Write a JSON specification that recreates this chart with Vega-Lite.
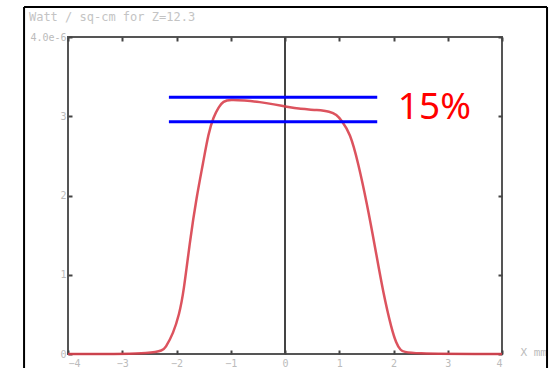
{
  "$schema": "https://vega.github.io/schema/vega-lite/v6.json",
  "autosize": "none",
  "width": 434,
  "height": 317,
  "padding": {"left": 68, "top": 37, "right": 47, "bottom": 14},
  "background": "white",
  "config": {
    "view": {"stroke": "#555", "strokeWidth": 2},
    "axis": {"grid": false, "domain": false, "tickColor": "#444", "tickWidth": 2, "tickSize": -4, "labelColor": "#bbb", "labelFont": "DejaVu Sans Mono", "labelFontSize": 10, "titleColor": "#bbb", "titleFont": "DejaVu Sans Mono", "titleFontSize": 11, "titleFontWeight": "normal"}
  },
  "datasets": {
    "curve": [
      {"x": -4, "y": 0}, {"x": -2.3, "y": 0}, {"x": -2.2, "y": 0.08}, {"x": -2.06, "y": 0.26}, {"x": -1.95, "y": 0.5},
      {"x": -1.87, "y": 0.77}, {"x": -1.75, "y": 1.44}, {"x": -1.63, "y": 1.98}, {"x": -1.51, "y": 2.41}, {"x": -1.41, "y": 2.79},
      {"x": -1.32, "y": 2.99}, {"x": -1.22, "y": 3.12}, {"x": -1.14, "y": 3.19}, {"x": -1.01, "y": 3.21}, {"x": -0.75, "y": 3.2},
      {"x": -0.46, "y": 3.18}, {"x": -0.2, "y": 3.15}, {"x": 0.03, "y": 3.12}, {"x": 0.28, "y": 3.09}, {"x": 0.6, "y": 3.08},
      {"x": 0.83, "y": 3.06}, {"x": 0.95, "y": 3.02}, {"x": 1.04, "y": 2.95}, {"x": 1.2, "y": 2.79}, {"x": 1.35, "y": 2.41},
      {"x": 1.51, "y": 1.9}, {"x": 1.66, "y": 1.35}, {"x": 1.81, "y": 0.77}, {"x": 1.97, "y": 0.3}, {"x": 2.05, "y": 0.14},
      {"x": 2.12, "y": 0.05}, {"x": 2.24, "y": 0}, {"x": 4, "y": 0}
    ],
    "blue": [
      {"x": -2.14, "x2": 1.7, "y": 3.24},
      {"x": -2.14, "x2": 1.7, "y": 2.93}
    ],
    "frame": [
      {"x": -4.81, "x2": -4.81, "y": -1, "y2": 4.38},
      {"x": -4.81, "x2": 4.83, "y": 4.38, "y2": 4.38},
      {"x": 4.83, "x2": 4.83, "y": -1, "y2": 4.38}
    ],
    "zero": [{"x": 0, "y": 0, "y2": 4}],
    "label": [{"x": 2.08, "y": 3.11, "text": "15%"}],
    "heading": [{"x": -4.72, "y": 4.25, "text": "Watt / sq-cm for Z=12.3"}]
  },
  "layer": [
    {
      "data": {"name": "zero"},
      "mark": {"type": "rule", "color": "#444", "strokeWidth": 2},
      "encoding": {
        "x": {"field": "x", "type": "quantitative", "scale": {"domain": [-4, 4], "nice": false},
              "axis": {"values": [-4, -3, -2, -1, 0, 1, 2, 3, 4], "labelPadding": 8, "title": "X mm", "titleX": 452, "titleY": -2, "titleAlign": "left", "titleBaseline": "middle", "titleAngle": 0}},
        "y": {"field": "y", "type": "quantitative", "scale": {"domain": [0, 4], "nice": false},
              "axis": {"values": [0, 1, 2, 3, 4], "labelPadding": 6, "title": null, "labelExpr": "datum.value == 4 ? '4.0e-6' : datum.label"}},
        "y2": {"field": "y2"}
      }
    },
    {
      "data": {"name": "curve"},
      "mark": {"type": "line", "color": "#d8404c", "strokeWidth": 2.5, "interpolate": "basis", "opacity": 0.9},
      "encoding": {
        "x": {"field": "x", "type": "quantitative", "axis": {"orient": "top", "values": [-4, -3, -2, -1, 0, 1, 2, 3, 4], "labels": false, "title": null}},
        "y": {"field": "y", "type": "quantitative", "axis": {"orient": "right", "values": [0, 1, 2, 3, 4], "labels": false, "title": null}}
      }
    },
    {
      "data": {"name": "blue"},
      "mark": {"type": "rule", "color": "#0000ff", "strokeWidth": 3},
      "encoding": {
        "x": {"field": "x", "type": "quantitative", "axis": null},
        "x2": {"field": "x2"},
        "y": {"field": "y", "type": "quantitative", "axis": null}
      }
    },
    {
      "data": {"name": "label"},
      "mark": {"type": "text", "color": "#ff0000", "font": "Noto Sans", "fontSize": 37, "align": "left", "baseline": "middle"},
      "encoding": {
        "x": {"field": "x", "type": "quantitative", "axis": null},
        "y": {"field": "y", "type": "quantitative", "axis": null},
        "text": {"field": "text"}
      }
    },
    {
      "data": {"name": "heading"},
      "mark": {"type": "text", "color": "#c4c4c4", "font": "DejaVu Sans Mono", "fontSize": 12, "align": "left", "baseline": "middle"},
      "encoding": {
        "x": {"field": "x", "type": "quantitative", "axis": null},
        "y": {"field": "y", "type": "quantitative", "axis": null},
        "text": {"field": "text"}
      }
    },
    {
      "data": {"name": "frame"},
      "mark": {"type": "rule", "color": "#000", "strokeWidth": 2},
      "encoding": {
        "x": {"field": "x", "type": "quantitative", "axis": null},
        "x2": {"field": "x2"},
        "y": {"field": "y", "type": "quantitative", "axis": null},
        "y2": {"field": "y2"}
      }
    }
  ],
  "resolve": {"axis": {"x": "independent", "y": "independent"}}
}
